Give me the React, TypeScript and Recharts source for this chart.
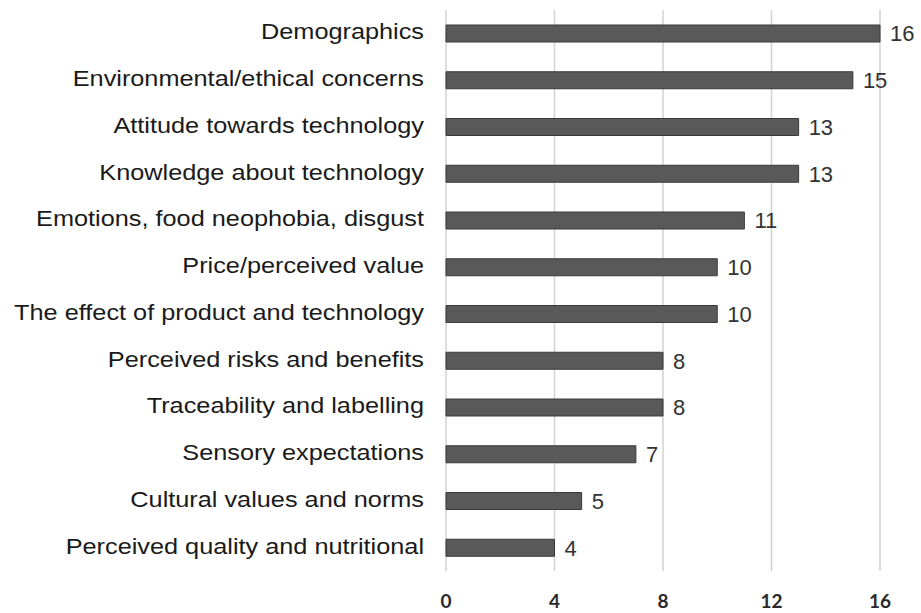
import { Bar, BarChart, CartesianGrid, LabelList, XAxis, YAxis } from "recharts";

const factors = [
  "Demographics",
  "Environmental/ethical concerns",
  "Attitude towards technology",
  "Knowledge about technology",
  "Emotions, food neophobia, disgust",
  "Price/perceived value",
  "The effect of product and technology",
  "Perceived risks and benefits",
  "Traceability and labelling",
  "Sensory expectations",
  "Cultural values and norms",
  "Perceived quality and nutritional",
];

const studyCounts = [16, 15, 13, 13, 11, 10, 10, 8, 8, 7, 5, 4];

const xTicks = [0, 4, 8, 12, 16];

const rows = factors.map((factor, i) => ({ factor, count: studyCounts[i] }));

// category labels are drawn slightly wide, so stretch them horizontally
function FactorTick(props: any) {
  const { y, payload } = props;
  return (
    <g transform={`translate(424, ${y + 6}) scale(1.15, 1)`}>
      <text
        x={0}
        y={0}
        textAnchor="end"
        fontSize={22}
        fontFamily="'Liberation Sans', Arial, sans-serif"
        fill="#1a1a1a"
      >
        {payload.value}
      </text>
    </g>
  );
}

function CountTick(props: any) {
  const { x, payload } = props;
  return (
    <text
      x={x}
      y={608}
      textAnchor="middle"
      fontSize={19}
      fontWeight={700}
      fontFamily="Lato, 'Open Sans', sans-serif"
      fill="#2a2a2a"
    >
      {payload.value}
    </text>
  );
}

export default function App() {
  return (
    <div style={{ position: "absolute", left: 0, top: 0, background: "#fff" }}>
      <BarChart
        width={921}
        height={613}
        data={rows}
        layout="vertical"
        margin={{ top: 10, right: 41, bottom: 0, left: 0 }}
      >
        <CartesianGrid horizontal={false} vertical stroke="#d2d2d2" strokeWidth={1.5} />
        <XAxis
          type="number"
          domain={[0, 16]}
          ticks={xTicks}
          axisLine={false}
          tickLine={false}
          height={42}
          tick={<CountTick />}
          interval={0}
        />
        <YAxis
          type="category"
          dataKey="factor"
          width={446}
          axisLine={false}
          tickLine={false}
          interval={0}
          tick={<FactorTick />}
        />
        <Bar dataKey="count" fill="#595959" stroke="#3a3a3a" strokeWidth={1} barSize={17} isAnimationActive={false}>
          <LabelList
            dataKey="count"
            position="right"
            offset={10}
            fontSize={22}
            fontFamily="'Liberation Sans', Arial, sans-serif"
            fill="#333"
          />
        </Bar>
      </BarChart>
    </div>
  );
}
